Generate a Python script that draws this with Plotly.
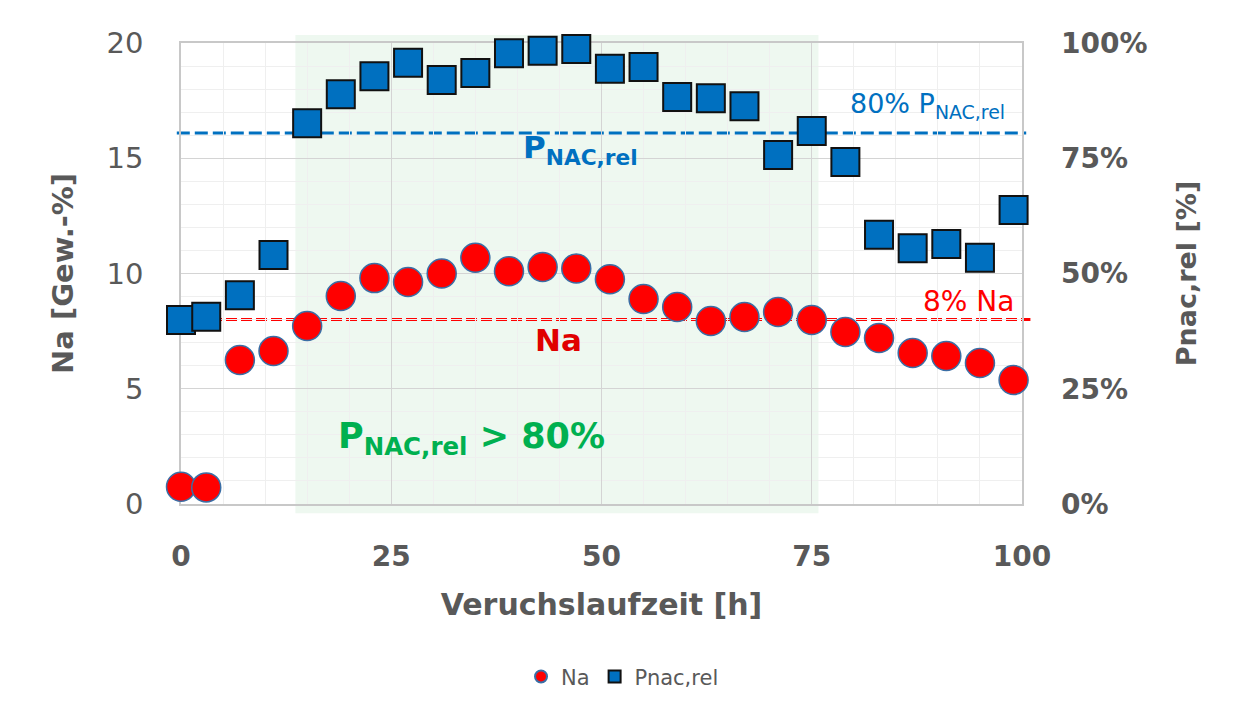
import plotly.graph_objects as go

# ---- data ----
zeit = [0, 3, 7, 11, 15, 19, 23, 27, 31, 35, 39, 43, 47, 51, 55, 59, 63, 67, 71, 75, 79, 83, 87, 91, 95, 99]
na = [0.75, 0.72, 6.25, 6.64, 7.72, 9.02, 9.80, 9.63, 10.0, 10.68, 10.1, 10.28, 10.22, 9.75,
      8.89, 8.55, 7.94, 8.11, 8.33, 7.98, 7.46, 7.2, 6.55, 6.42, 6.12, 5.38]
pnac = [39.9, 40.6, 45.3, 54.0, 82.6, 88.9, 92.8, 95.7, 92.0, 93.5, 97.8, 98.3, 98.7, 94.4,
        94.8, 88.3, 88.0, 86.3, 75.7, 80.9, 74.2, 58.4, 55.5, 56.4, 53.4, 63.8]
na_limit = 8          # 8 % Na
pnac_limit = 80.5     # 80 % Pnac,rel
zone = [13.6, 75.8]   # Pnac,rel > 80 % zone [h]

x_ticks = [0, 25, 50, 75, 100]
y_ticks = [0, 5, 10, 15, 20]
y2_ticks = [0, 25, 50, 75, 100]
y2_labels = ["0%", "25%", "50%", "75%", "100%"]

GRAY = "#595959"
BLUE = "#0070C0"
RED = "#FF0000"
GREEN = "#00B050"
XMAX, YMAX = 100, 20
FONT = "DejaVu Sans"

fig = go.Figure()
fig.add_trace(go.Scatter(
    x=zeit, y=pnac, name="Pnac,rel", mode="markers", yaxis="y2", cliponaxis=False,
    marker=dict(symbol="square", size=28, color=BLUE, line=dict(color="#111111", width=2))))
fig.add_trace(go.Scatter(
    x=zeit, y=na, name="Na", mode="markers", cliponaxis=False,
    marker=dict(symbol="circle", size=29, color=RED, line=dict(color="#3A6EA5", width=1.5))))

# green zone (paper coords so it may extend past the plot edges)
fig.add_shape(type="rect", xref="paper", yref="paper",
              x0=zone[0] / XMAX, x1=zone[1] / XMAX, y0=-0.4 / YMAX, y1=20.35 / YMAX,
              fillcolor="#EEF8F0", line=dict(width=0), layer="below")
# threshold lines
fig.add_shape(type="line", xref="paper", yref="paper",
              x0=-0.5 / XMAX, x1=100.5 / XMAX, y0=pnac_limit / 100, y1=pnac_limit / 100,
              line=dict(color=BLUE, width=3, dash="13px,5px"), layer="between")
fig.add_shape(type="line", xref="paper", yref="paper",
              x0=0, x1=101 / XMAX, y0=na_limit / YMAX, y1=na_limit / YMAX,
              line=dict(color=RED, width=3, dash="11px,4px"), layer="between")

fig.add_annotation(x=79.3, y=17.3, xanchor="left", yanchor="middle", showarrow=False,
                   text="80% P<sub>NAC,rel</sub>", font=dict(family=FONT, size=27, color=BLUE))
fig.add_annotation(x=47.5, y=15.4, xanchor="center", yanchor="middle", showarrow=False,
                   text="<b>P<sub>NAC,rel</sub></b>", font=dict(family=FONT, size=31, color=BLUE))
fig.add_annotation(x=44.9, y=7.1, xanchor="center", yanchor="middle", showarrow=False,
                   text="<b>Na</b>", font=dict(family=FONT, size=31, color="#E00000"))
fig.add_annotation(x=99.3, y=8.8, xanchor="right", yanchor="middle", showarrow=False,
                   text="8% Na", font=dict(family=FONT, size=28, color=RED))
fig.add_annotation(x=34.6, y=2.85, xanchor="center", yanchor="middle", showarrow=False,
                   text="<b>P<sub>NAC,rel</sub> > 80%</b>", font=dict(family=FONT, size=35, color=GREEN))

# the page body has an 8px margin, so the margins are reduced by 8px at top/left
fig.update_layout(
    width=1234, height=709,
    margin=dict(l=173, r=220, t=35, b=213),
    paper_bgcolor="white", plot_bgcolor="white",
    showlegend=True,
    legend=dict(orientation="h", x=0.525, xanchor="center", y=-0.375, yanchor="middle",
                font=dict(family=FONT, size=21, color=GRAY), itemsizing="constant",
                traceorder="reversed"),
    xaxis=dict(range=[0, XMAX], tickvals=x_ticks, showgrid=True, gridcolor="#D4D4D4", gridwidth=1.2,
               zeroline=False, showline=True, linecolor="#C8C8C8", linewidth=1.5, mirror=True,
               layer="below traces", ticks="", automargin=False,
               minor=dict(dtick=5, showgrid=True, gridcolor="#EFEFEF", gridwidth=1),
               tickfont=dict(family=FONT, size=28, color=GRAY, weight="bold"),
               ticklabelstandoff=27,
               title=dict(text="Veruchslaufzeit [h]", standoff=22,
                          font=dict(family=FONT, size=30, color=GRAY, weight="bold"))),
    yaxis=dict(range=[0, YMAX], tickvals=y_ticks, showgrid=True, gridcolor="#D4D4D4", gridwidth=1.2,
               zeroline=False, showline=True, linecolor="#C8C8C8", linewidth=1.5, mirror=True,
               layer="below traces", ticks="", automargin=False,
               minor=dict(dtick=1, showgrid=True, gridcolor="#EFEFEF", gridwidth=1),
               tickfont=dict(family=FONT, size=29, color=GRAY),
               ticklabelstandoff=30,
               title=dict(text="Na [Gew.-%]", standoff=24,
                          font=dict(family=FONT, size=29, color=GRAY, weight="bold"))),
    yaxis2=dict(range=[0, 100], tickvals=y2_ticks, ticktext=y2_labels, overlaying="y", side="right",
                showgrid=False, zeroline=False, showline=False, ticks="", automargin=False,
                layer="below traces",
                tickfont=dict(family=FONT, size=28, color=GRAY, weight="bold"),
                ticklabelstandoff=38,
                title=dict(text="Pnac,rel [%]", standoff=30,
                           font=dict(family=FONT, size=27, color=GRAY, weight="bold"))),
)

fig.write_html("out.html")
